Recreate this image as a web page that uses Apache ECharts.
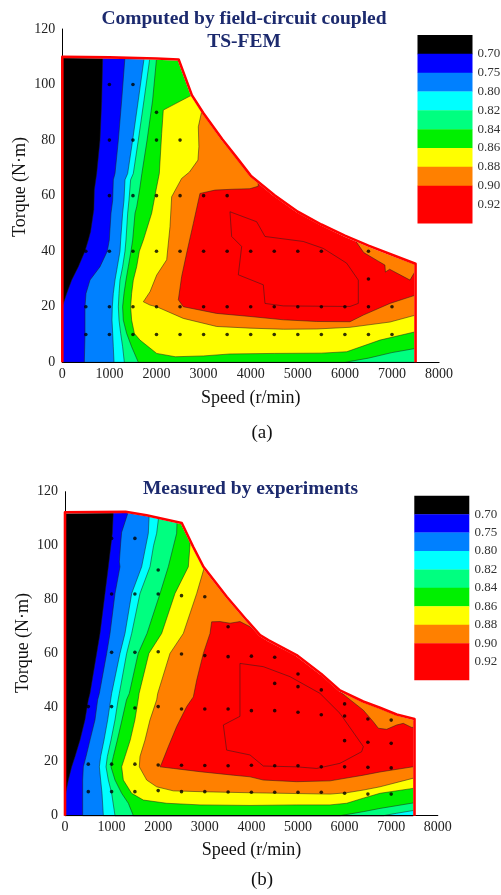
<!DOCTYPE html>
<html><head><meta charset="utf-8">
<script src="https://cdn.jsdelivr.net/npm/echarts@6/dist/echarts.min.js"></script>
<style>html,body{margin:0;padding:0;background:#fff}#c{width:501px;height:895px}</style>
</head><body><div id="c"></div>
<script>
// ---------- legend ----------
const LEVEL_COLORS = ['#000000','#0000FF','#0080FF','#00FFFF','#00FF80','#00F000','#FFFF00','#FF8000','#FF0000'];
const LEVEL_LABELS = ['0.70','0.75','0.80','0.82','0.84','0.86','0.88','0.90','0.92'];
const X_TICKS = [0,1000,2000,3000,4000,5000,6000,7000,8000];
const Y_TICKS = [0,20,40,60,80,100,120];

// ---------- (a) computed ----------
const TOP_ENVELOPE = [[0,110],[1000,109.8],[2000,109.4],[2470,109],[2750,96.2],[3000,89.6],[3400,80.2],[3700,73.8],[4000,67.2],[4500,60.2],[5000,54.2],[5500,49.6],[6000,45.6],[6500,42],[7000,38.7],[7500,35.5]];
const TOP_C070 = [[858,110],[836,94],[800,80],[730,68],[680,62],[670,55],[600,47],[552,44],[480,40],[340,34.4],[199,29.6],[93,24.8],[0,20],[0,0]];
const TOP_C075 = [[1331,110],[1261,94.4],[1190,80],[1119,68],[1083,65.7],[1070,58.4],[1034,53.7],[998,44],[955,40],[800,34.4],[588,29.6],[503,24.8],[482,20],[482,10],[468,0]];
const TOP_C080 = [[1741,110],[1614,94.4],[1494,80],[1388,68],[1331,65.7],[1310,58.4],[1281,53.7],[1239,44],[1225,40],[1168,34.4],[1119,29.6],[1083,24.8],[1062,20],[1055,15.2],[1070,10.4],[1083,5.6],[1098,0]];
const TOP_C082 = [[1862,110],[1735,94.4],[1614,80],[1508,68],[1450,65.7],[1416,58.4],[1388,53.7],[1352,44],[1331,40],[1281,34.4],[1225,29.6],[1204,24.8],[1190,20],[1204,15.2],[1239,10.4],[1281,5.6],[1317,0]];
const TOP_C084 = [[2004,110],[1918,94.4],[1800,80],[1690,68],[1640,62],[1580,56],[1544,53.7],[1494,44],[1458,40],[1401,34.4],[1352,29.6],[1310,24.8],[1281,20],[1295,15.2],[1366,10.4],[1472,5.6],[1614,0],[6000,0],[6500,1.5],[7000,3.5],[7500,5]];
const TOP_C086 = [[2750,96.2],[2144,90.8],[2110,82.4],[2060,68],[1990,62],[1898,53.7],[1721,44],[1636,40],[1579,34.4],[1508,29.6],[1472,24.8],[1451,20],[1472,15.2],[1530,10.4],[1650,8],[2004,3.2],[2400,2],[3000,2.3],[3560,3],[4500,3.2],[5500,3.3],[6038,3.8],[6745,8],[7500,11]];
const TOP_C088 = [[2958,90.2],[2888,84.8],[2900,77.6],[2880,72.8],[2700,68.5],[2534,66.2],[2322,59.6],[2287,48.9],[2216,36.9],[2004,31.4],[1862,25.4],[1721,21.8],[1862,20.6],[2004,20],[2570,15.8],[3277,12.9],[3985,12.3],[4693,11.9],[5400,12],[6108,12.6],[6958,14.5],[7500,17]];
const TOP_C090 = [[4160,63.4],[3985,62.5],[3600,62.3],[3242,62],[2923,60.8],[2782,50],[2640,39.3],[2534,30.9],[2464,22.5],[2570,20],[3277,17.6],[3985,16.5],[4693,15.3],[5400,14.7],[6108,14.6],[6391,17],[6958,21.2],[7500,24.2]];
const TOP_ISLAND_088 = [[6200,48],[6236,43.5],[6400,39.5],[6700,36.5],[6850,35],[6860,32.5],[6950,33.5],[7382,29.6],[7500,33],[7600,33],[7600,48]];
const TOP_C092 = [[3560,54.2],[4127,50.6],[4303,45.3],[5117,43.5],[5542,41],[6037,35.7],[6285,29.6],[6285,21.2],[6108,20.1],[4693,20.3],[4303,21.2],[4268,27.9],[3737,31.5],[3808,41.7],[3596,45.3],[3560,54.2]];
const TOP_POINTS = [
  [1000,100],[1500,100],[2000,90],
  [1000,80],[1500,80],[2000,80],[2500,80],
  [1000,60],[1500,60],[2000,60],[2500,60],[3000,60],[3500,60],
  [500,40],[1000,40],[1500,40],[2000,40],[2500,40],[3000,40],[3500,40],[4000,40],[4500,40],[5000,40],[5500,40],[6500,40],
  [6500,30],
  [500,20],[1000,20],[1500,20],[2000,20],[2500,20],[3000,20],[3500,20],[4000,20],[4500,20],[5000,20],[5500,20],[6000,20],[6500,20],[7000,20],
  [500,10],[1000,10],[1500,10],[2000,10],[2500,10],[3000,10],[3500,10],[4000,10],[4500,10],[5000,10],[5500,10],[6000,10],[6500,10],[7000,10]
];

// ---------- (b) measured ----------
const BOT_ENVELOPE = [[0,112.4],[1300,112.6],[1750,111.3],[2505,108.4],[2750,99.6],[2970,92.2],[3470,81.1],[3900,72.4],[4185,66.9],[4363,65],[4970,59.5],[5500,52.5],[5900,46.4],[6400,42.3],[6760,40],[7117,37.5],[7500,35.8]];
const BOT_C070 = [[1037,112.6],[1016,104.6],[930,92.2],[858,82.3],[751,67.5],[679,60.1],[536,45.3],[501,42.9],[429,35.5],[322,28],[215,21.9],[143,18.1],[71,13.2],[14,8.3],[0,7.5],[0,0]];
const BOT_C075 = [[1359,112.6],[1216,105],[1195,101],[1166,94],[1180,92.2],[1073,82.3],[966,67.5],[894,60.1],[737,45.3],[700,42.9],[644,35.5],[536,28],[451,21.9],[393,18.1],[379,13.2],[379,0]];
const BOT_C080 = [[1810,112.6],[1788,104.6],[1645,92.2],[1431,82.3],[1287,67.5],[1180,60.1],[1001,45.3],[980,42.9],[916,35.5],[837,28],[765,21.9],[737,18.1],[765,13.2],[794,8.3],[823,0]];
const BOT_C082 = [[2024,112.6],[1967,104.6],[1900,100],[1824,92.2],[1609,82.3],[1431,67.5],[1323,60.1],[1166,45.3],[1140,42.9],[1073,35.5],[987,28],[908,21.9],[880,18.1],[930,13.2],[1001,8.3],[1073,0],[6831,0],[7117,0.9],[7500,2]];
const BOT_C084 = [[2411,112.6],[2396,104.6],[2217,92.2],[2039,82.3],[1760,67.5],[1570,60.1],[1380,45.3],[1320,42.9],[1223,35.5],[1123,28],[1037,21.9],[987,18.1],[1073,13.2],[1216,8.3],[1359,4.6],[1466,0],[5901,0],[6402,1.5],[6760,2.7],[7500,4.8]];
const BOT_C086 = [[2690,102],[2647,92.2],[2360,82.3],[2074,67.5],[1800,60.1],[1590,45.3],[1570,42.9],[1500,35.5],[1400,28],[1287,21.9],[1216,18.1],[1252,13.2],[1430,8.3],[1681,5.8],[2182,4.6],[2897,4.0],[3970,3.8],[4971,4.0],[5687,4.0],[6044,4.6],[6402,6.5],[6760,8.3],[7500,10.2]];
const BOT_C088 = [[2990,92],[2826,82.3],[2539,67.5],[2253,60.1],[1990,45.3],[1967,42.9],[1824,35.5],[1717,28],[1609,21.9],[1595,18.1],[1753,13.2],[1967,10.7],[2325,9.2],[2897,8.9],[3970,8.5],[4971,8.2],[5687,8.0],[6044,8.5],[6402,9.5],[6760,10.7],[7500,14]];
const BOT_C090 = [[4250,66.3],[3970,70],[3755,71.9],[3541,71.3],[3326,71.9],[3147,71.8],[3112,67.5],[2969,60.1],[2826,50.2],[2754,44],[2611,40.4],[2396,33],[2218,25.6],[2075,19.4],[2039,18.1],[2325,17.5],[2897,16.3],[3612,15],[3970,14.4],[4256,13.2],[4971,12.6],[5687,12.9],[6402,15],[6760,16.2],[7500,18.2]];
const BOT_ISLAND_088 = [[5850,50],[5901,45.9],[6402,39.1],[6616,34.8],[6724,32.4],[6903,32],[7117,33.6],[7260,34.2],[7439,32.7],[7600,32.7],[7600,50]];
const BOT_C092 = [[3755,56.4],[4256,55.2],[4828,51.5],[5472,45.3],[5901,37.9],[6402,25.6],[6366,23.7],[5901,19.4],[5401,17.5],[4971,18.1],[4256,18.4],[3970,22.5],[3469,24.3],[3398,33.6],[3755,36.8],[3755,56.4]];
const BOT_POINTS = [
  [1000,102.7],[1500,102.7],[2000,91],
  [1000,82.1],[1500,82.1],[2000,82.1],[2500,81.5],[3000,81.1],[3500,70],
  [1000,60.5],[1500,60.5],[2000,60.7],[2500,59.9],[3000,59.3],[3500,58.9],[4000,59.1],[4500,58.7],
  [5000,52.5],[4500,49],[5000,47.8],[5500,46.6],[6000,41.4],[6000,36.9],[6500,35.8],[7000,35.4],
  [500,40.4],[1000,40.4],[1500,39.9],[2000,40.4],[2500,39.5],[3000,39.5],[3500,39.5],[4000,38.9],[4500,38.9],[5000,38.3],[5500,37.4],
  [6000,27.8],[6500,27.2],[7000,26.8],
  [500,19.1],[1000,19.1],[1500,19.1],[2000,18.8],[2500,18.7],[3000,18.6],[3500,18.5],[4000,18.7],[4500,18.5],[5000,18.5],[5500,18.1],[6000,18.1],[6500,17.9],[7000,17.7],
  [500,8.9],[1000,8.9],[1500,8.9],[2000,9.3],[2500,8.9],[3000,8.9],[3500,8.8],[4000,8.7],[4500,8.7],[5000,8.7],[5500,8.7],[6000,8.3],[6500,8.0],[7000,8.0]
];

// ---------- building ----------
const XMAX = 8000, YMAX = 120;
const LINE = 'rgba(30,30,30,0.85)';
const SERIF = '"Liberation Serif","Times New Roman",serif';

function closeAbove(line){
  const last = line[line.length-1];
  return [[line[0][0], YMAX]].concat(line, [[XMAX, last[1]], [XMAX, YMAX]]);
}
function shapeSeries(gi, pts, kind, style, z){
  return {type:'custom', xAxisIndex:gi, yAxisIndex:gi, z:z, silent:true, animation:false,
    data:[[0,0]],
    renderItem:function(p, api){
      return {type:kind, shape:{points: pts.map(q=>api.coord(q))}, style:style};
    }};
}
function panelSeries(gi, env, contours, island, inner, points){
  const S = [];
  const last = env[env.length-1];
  S.push(shapeSeries(gi, [[0,0]].concat(env, [[last[0],0]]), 'polygon', {fill:LEVEL_COLORS[0]}, 2));
  contours.forEach((c,i)=>{
    S.push(shapeSeries(gi, closeAbove(c), 'polygon', {fill:LEVEL_COLORS[i+1], stroke:LINE, lineWidth:0.6}, 3+i));
  });
  S.push(shapeSeries(gi, island, 'polygon', {fill:LEVEL_COLORS[7], stroke:LINE, lineWidth:0.6}, 12));
  S.push(shapeSeries(gi, inner, 'polyline', {fill:null, stroke:LINE, lineWidth:0.6}, 13));
  // white outside the operating envelope
  S.push(shapeSeries(gi, [[0,YMAX]].concat(env, [[last[0],0],[XMAX,0],[XMAX,YMAX]]), 'polygon', {fill:'#ffffff', stroke:'#ffffff', lineWidth:2.4}, 14));
  // red envelope outline
  S.push(shapeSeries(gi, [[0,0]].concat(env, [[last[0],0]]), 'polyline', {fill:null, stroke:'#FF0000', lineWidth:2.6, lineJoin:'round'}, 21));
  S.push({type:'scatter', xAxisIndex:gi, yAxisIndex:gi, z:22, silent:true, animation:false,
    symbol:'circle', symbolSize:3.6, itemStyle:{color:'#000'}, data:points});
  return S;
}
const plain = v => String(v);
function xAxisOf(gi, gap){
  return {gridIndex:gi, type:'value', min:X_TICKS[0], max:X_TICKS[X_TICKS.length-1], interval:X_TICKS[1]-X_TICKS[0], z:20,
    axisLine:{show:true, onZero:false, lineStyle:{color:'#000', width:1}}, axisTick:{show:false}, splitLine:{show:false},
    axisLabel:{fontFamily:SERIF, fontSize:14, color:'#222', margin:5, formatter:plain},
    name:'Speed (r/min)', nameLocation:'middle', nameGap:gap,
    nameTextStyle:{fontFamily:SERIF, fontSize:18, color:'#111'}};
}
function yAxisOf(gi){
  return {gridIndex:gi, type:'value', min:Y_TICKS[0], max:Y_TICKS[Y_TICKS.length-1], interval:Y_TICKS[1]-Y_TICKS[0], z:20,
    axisLine:{show:true, onZero:false, lineStyle:{color:'#000', width:1}}, axisTick:{show:false}, splitLine:{show:false},
    axisLabel:{fontFamily:SERIF, fontSize:14, color:'#222', margin:7, formatter:plain}};
}
function legendGraphics(x, y0, w, h, labelX){
  const g = [];
  for (let i=0;i<LEVEL_COLORS.length;i++){
    const hh = (i===LEVEL_COLORS.length-1) ? 2*h : h;
    g.push({type:'rect', z:100, shape:{x:x, y:y0+i*h, width:w, height:hh+0.3}, style:{fill:LEVEL_COLORS[i]}, silent:true});
  }
  LEVEL_LABELS.forEach((t,i)=>{
    g.push({type:'text', z:100, x:labelX, y:y0+(i+1)*h, silent:true,
      style:{text:t, font:'13px '+SERIF, fill:'#333', textAlign:'left', textVerticalAlign:'middle', verticalAlign:'middle'}});
  });
  return g;
}
function txt(s, x, y, font, fill, rot){
  return {type:'text', z:100, x:x, y:y, rotation:rot||0, silent:true, style:{text:s, font:font, fill:fill, textAlign:'center', textVerticalAlign:'middle', verticalAlign:'middle'}};
}
const TITLE_FONT = 'bold 19.5px '+SERIF, NAVY = '#1c2a6e';

const option = {
  animation:false,
  backgroundColor:'#ffffff',
  grid:[
    {left:62.3, top:29, width:376.8, height:333.3},
    {left:65, top:491.7, width:372.8, height:324}
  ],
  xAxis:[xAxisOf(0, 27), xAxisOf(1, 26)],
  yAxis:[yAxisOf(0), yAxisOf(1)],
  series: panelSeries(0, TOP_ENVELOPE, [TOP_C070,TOP_C075,TOP_C080,TOP_C082,TOP_C084,TOP_C086,TOP_C088,TOP_C090], TOP_ISLAND_088, TOP_C092, TOP_POINTS)
    .concat(panelSeries(1, BOT_ENVELOPE, [BOT_C070,BOT_C075,BOT_C080,BOT_C082,BOT_C084,BOT_C086,BOT_C088,BOT_C090], BOT_ISLAND_088, BOT_C092, BOT_POINTS)),
  graphic: [].concat(
    legendGraphics(417.5, 35, 55, 18.83, 477.5),
    legendGraphics(414.3, 495.7, 55, 18.43, 474.5),
    [
      txt('Computed by field-circuit coupled', 244, 18.5, TITLE_FONT, NAVY),
      txt('TS-FEM', 244, 41.7, TITLE_FONT, NAVY),
      txt('Measured by experiments', 250.5, 489.3, TITLE_FONT, NAVY),
      txt('Torque (N·m)', 20.5, 187, '18px '+SERIF, '#111', Math.PI/2),
      txt('Torque (N·m)', 23.5, 643, '18px '+SERIF, '#111', Math.PI/2),
      txt('(a)', 262, 433, '19px '+SERIF, '#111'),
      txt('(b)', 262, 880, '19px '+SERIF, '#111')
    ])
};
const chart = echarts.init(document.getElementById('c'), null, {renderer:'canvas'});
chart.setOption(option);
</script></body></html>
